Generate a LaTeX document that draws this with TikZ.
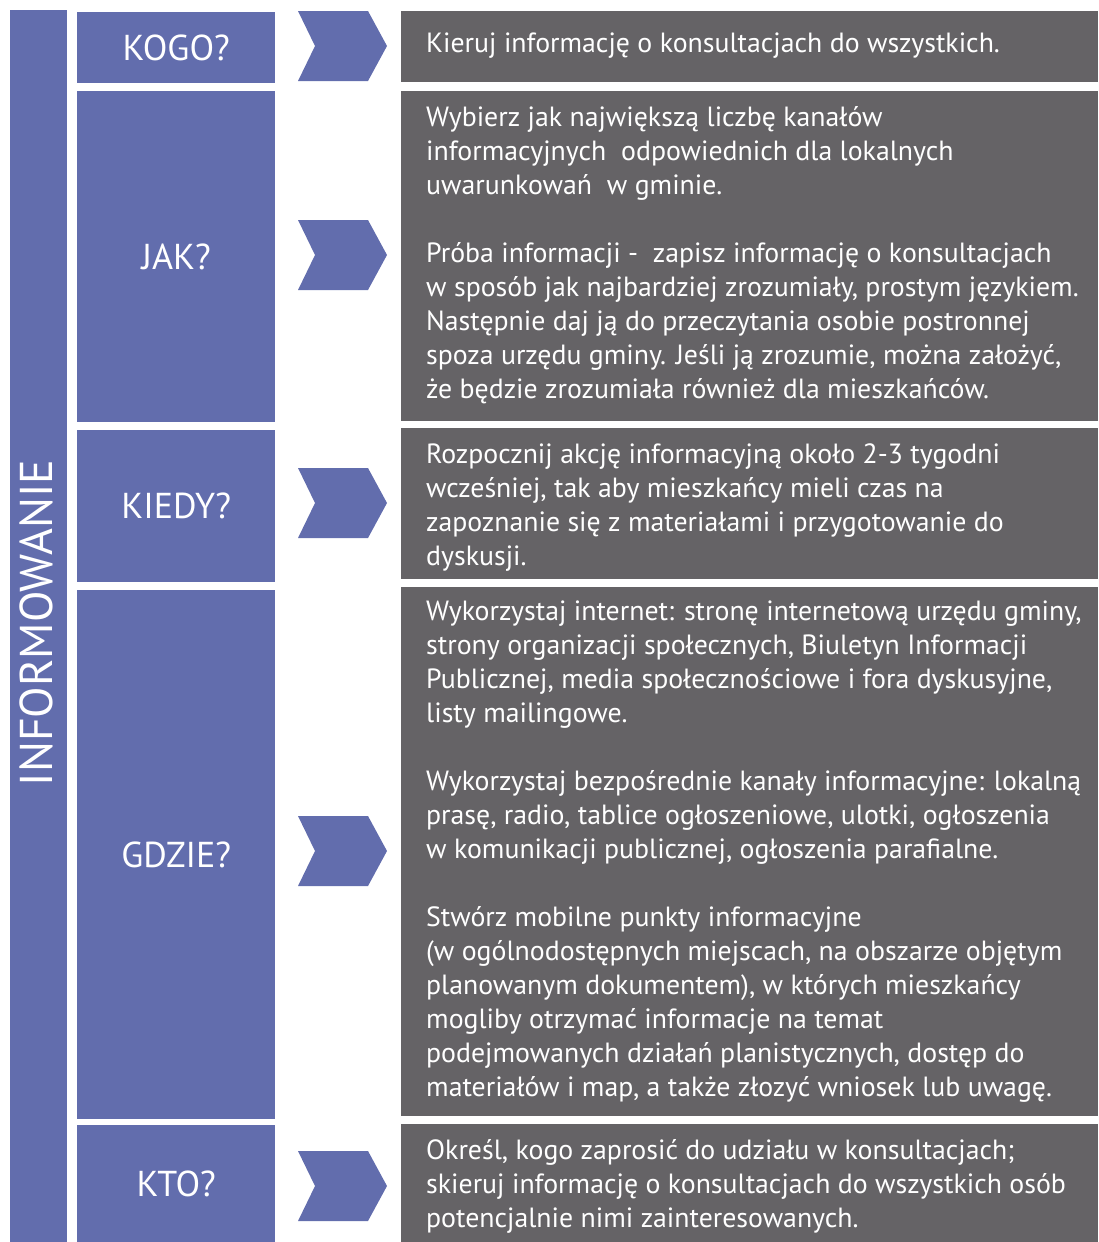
\documentclass[tikz,border=0pt]{standalone}
\usepackage{fontspec}
\setmainfont{PT Sans}
\usetikzlibrary{positioning}
\definecolor{niebieski}{RGB}{98,109,173}
\definecolor{szary}{RGB}{101,99,102}
\tikzset{
	etykieta/.style={fill=niebieski, text=white, minimum width=198pt, inner sep=0pt,
		anchor=north west, font=\fontsize{36}{40}\selectfont},
	opis/.style={fill=szary, minimum width=697pt, inner sep=0pt, anchor=north west},
	tresc/.style={text=white, anchor=north west, align=left, inner sep=0pt,
		font=\fontsize{27.8}{34}\selectfont, execute at begin node={\rule{0pt}{26pt}}},
	strzalka/.pic={
		\fill[niebieski] (0,-35) -- (70,-35) -- (89,0) -- (70,35) -- (0,35) -- (17,0) -- cycle;
	}
}

\begin{document}
\begin{tikzpicture}[x=1pt, y=-1pt]
	\useasboundingbox (0,0) rectangle (1098,1242);
	% pasek z lewej
	\node[fill=niebieski, minimum width=57pt, minimum height=1232pt, inner sep=0pt, anchor=north west] (pasek) at (10,10) {};
	\node[text=white, rotate=90, inner sep=0pt, font=\fontsize{46}{52}\selectfont] (napis) at (36,623) {INFORMOWANIE};
	% etykiety
	\node[etykieta, minimum height=71pt] (kogo) at (77,12) {KOGO?};
	\node[etykieta, minimum height=331pt] (jak) at (77,91) {JAK?};
	\node[etykieta, minimum height=152pt] (kiedy) at (77,430) {KIEDY?};
	\node[etykieta, minimum height=529pt] (gdzie) at (77,590) {GDZIE?};
	\node[etykieta, minimum height=117pt] (kto) at (77,1125) {KTO?};
	% pola z opisem
	\node[opis, minimum height=71pt] (kogoOpis) at (401,11) {};
	\node[opis, minimum height=330pt] (jakOpis) at (401,91) {};
	\node[opis, minimum height=151pt] (kiedyOpis) at (401,428) {};
	\node[opis, minimum height=529pt] (gdzieOpis) at (401,587) {};
	\node[opis, minimum height=118pt] (ktoOpis) at (401,1124) {};
	% strzalki
	\pic at (298,46) {strzalka};
	\pic at (298,255) {strzalka};
	\pic at (298,503) {strzalka};
	\pic at (298,851) {strzalka};
	\pic at (298,1186) {strzalka};
	% teksty
	\node[tresc] (kogoTekst) at (426,26) {Kieruj informację o konsultacjach do wszystkich.};
	\node[tresc] (jakTekst) at (426,106) {Wybierz jak największą liczbę kanałów\\
		informacyjnych~ odpowiednich dla lokalnych\\
		uwarunkowań~ w gminie.\\
		\\
		Próba informacji -~ zapisz informację o konsultacjach\\
		w sposób jak najbardziej zrozumiały, prostym językiem.\\
		Następnie daj ją do przeczytania osobie postronnej\\
		spoza urzędu gminy. Jeśli ją zrozumie, można założyć,\\
		że będzie zrozumiała również dla mieszkańców.};
	\node[tresc] (kiedyTekst) at (426,443) {Rozpocznij akcję informacyjną około 2-3 tygodni\\
		wcześniej, tak aby mieszkańcy mieli czas na\\
		zapoznanie się z materiałami i przygotowanie do\\
		dyskusji.};
	\node[tresc] (gdzieTekst) at (426,601) {Wykorzystaj internet: stronę internetową urzędu gminy,\\
		strony organizacji społecznych, Biuletyn Informacji\\
		Publicznej, media społecznościowe i fora dyskusyjne,\\
		listy mailingowe.\\
		\\
		Wykorzystaj bezpośrednie kanały informacyjne: lokalną\\
		prasę, radio, tablice ogłoszeniowe, ulotki, ogłoszenia\\
		w komunikacji publicznej, ogłoszenia parafialne.\\
		\\
		Stwórz mobilne punkty informacyjne\\
		(w ogólnodostępnych miejscach, na obszarze objętym\\
		planowanym dokumentem), w których mieszkańcy\\
		mogliby otrzymać informacje na temat\\
		podejmowanych działań planistycznych, dostęp do\\
		materiałów i map, a także złozyć wniosek lub uwagę.};
	\node[tresc] (ktoTekst) at (426,1139) {Określ, kogo zaprosić do udziału w konsultacjach;\\
		skieruj informację o konsultacjach do wszystkich osób\\
		potencjalnie nimi zainteresowanych.};
\end{tikzpicture}
\end{document}
